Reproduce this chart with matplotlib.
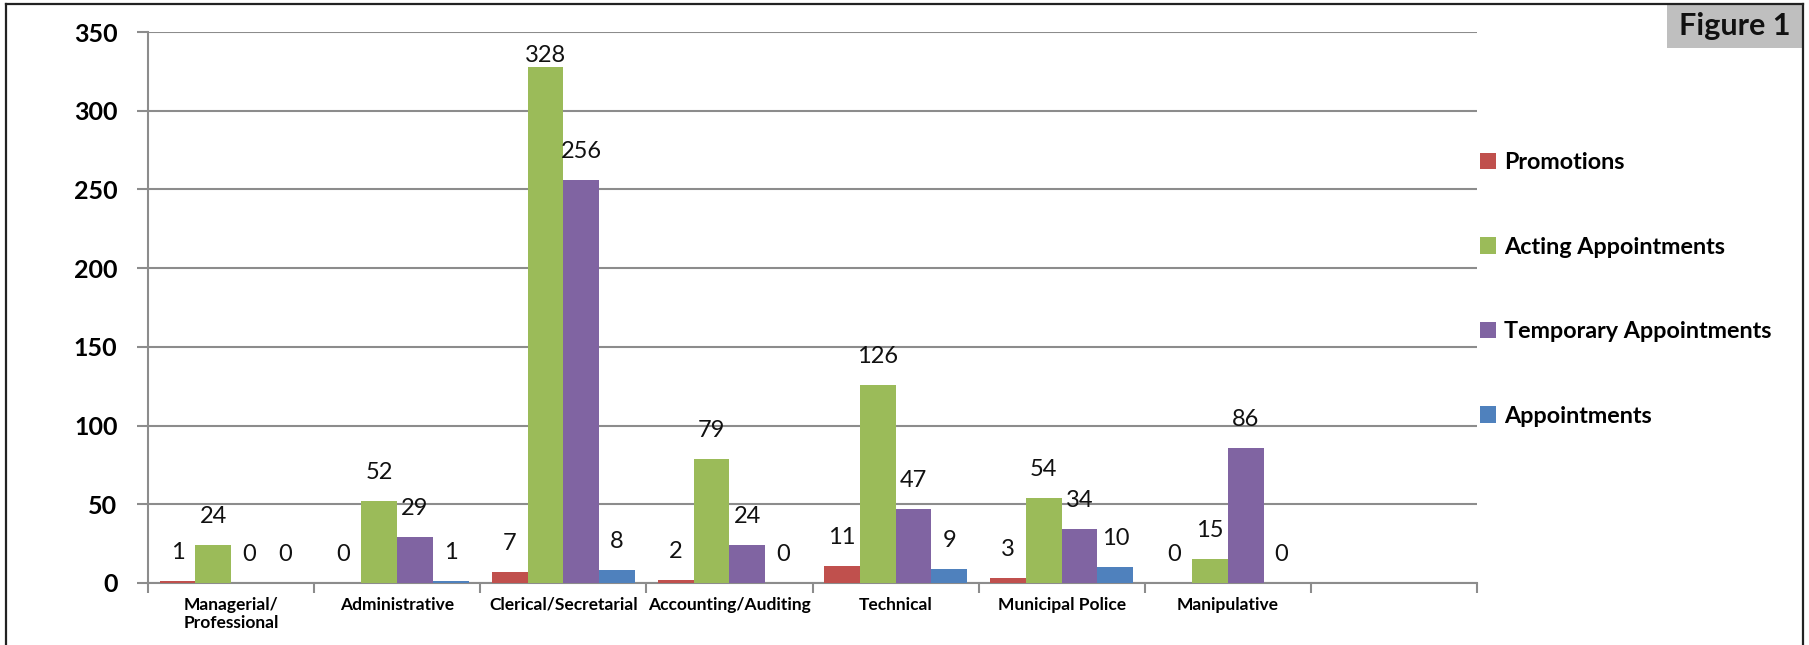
import numpy as np
import matplotlib.pyplot as plt
from matplotlib.lines import Line2D
from matplotlib.patches import Rectangle

categories = ["Managerial/\nProfessional", "Administrative", "Clerical/Secretarial",
              "Accounting/Auditing", "Technical", "Municipal Police", "Manipulative", ""]
promotions = [1, 0, 7, 2, 11, 3, 0]
acting = [24, 52, 328, 79, 126, 54, 15]
temporary = [0, 29, 256, 24, 47, 34, 86]
appointments = [0, 1, 8, 0, 9, 10, 0]

series_names = ["Promotions", "Acting Appointments", "Temporary Appointments", "Appointments"]
colors = ["#C0504D", "#9BBB59", "#8064A2", "#4F81BD"]
y_ticks = [0, 50, 100, 150, 200, 250, 300, 350]


def main():
    plt.rcParams["font.family"] = ["Lato", "DejaVu Sans"]
    W, H = 1809, 645
    fig = plt.figure(figsize=(W / 100, H / 100), dpi=100)
    ax = fig.add_axes([148 / W, 1 - 583 / H, (1477 - 148) / W, (583 - 32) / H])

    grid_c = "#8C8C8C"
    n = len(promotions)
    bw = 1 / 4.65
    x = np.arange(n) + 0.5
    data = [promotions, acting, temporary, appointments]
    for k, (vals, name, c) in enumerate(zip(data, series_names, colors)):
        xs = x + (k - 1.5) * bw
        ax.bar(xs, vals, width=bw, color=c, label=name, zorder=3)
        for xi, v in zip(xs, vals):
            ly = v + 11.5 if v + 24 < 350 else v + 0.5
            ax.text(xi, ly, str(v), ha="center", va="bottom", fontsize=17,
                    color="#111111", zorder=4)

    ax.set_xlim(0, len(categories))
    ax.set_ylim(0, 350)
    ax.set_yticks(y_ticks)
    ax.set_yticklabels([str(t) for t in y_ticks], fontsize=18, fontweight="bold")
    ax.set_xticks(np.arange(len(categories) + 1))
    ax.set_xticklabels([])
    ax.set_xticks(np.arange(len(categories)) + 0.5, minor=True)
    ax.set_xticklabels(categories, minor=True, fontsize=12.5, fontweight="bold")
    ax.tick_params(axis="x", which="minor", length=0, pad=10)
    ax.tick_params(axis="x", which="major", length=7, width=1.5, color=grid_c)
    ax.tick_params(axis="y", length=8, width=1.5, color=grid_c, pad=14)
    ax.yaxis.grid(True, color=grid_c, linewidth=1.5, zorder=0)
    ax.set_axisbelow(True)
    for s in ["top", "right"]:
        ax.spines[s].set_visible(False)
    for s in ["left", "bottom"]:
        ax.spines[s].set_color(grid_c)
        ax.spines[s].set_linewidth(1.5)

    ax.legend(loc="center left", bbox_to_anchor=(1.002, 0.533), frameon=False,
              prop={"weight": "bold", "size": 16.8}, labelspacing=2.72,
              handlelength=0.7, handleheight=0.7, handletextpad=0.35,
              borderaxespad=0, borderpad=0)

    # outer frame
    fx = lambda px: px / W
    fy = lambda py: 1 - py / H
    for xs_, ys_ in [([6, 6], [4, 660]), ([6, 1803], [4, 4]), ([1803, 1803], [4, 660])]:
        fig.add_artist(Line2D([fx(v) for v in xs_], [fy(v) for v in ys_],
                              color="#222222", linewidth=1.6))
    fig.add_artist(Rectangle((fx(1667), fy(48)), 136 / W, 44 / H, facecolor="#BFBFBF",
                             edgecolor="none", transform=fig.transFigure))
    fig.text(fx(1735), fy(26), "Figure 1", ha="center", va="center",
             fontsize=22, fontweight="bold", color="#111111")

    plt.savefig("out.png", dpi=100)


if __name__ == "__main__":
    main()
